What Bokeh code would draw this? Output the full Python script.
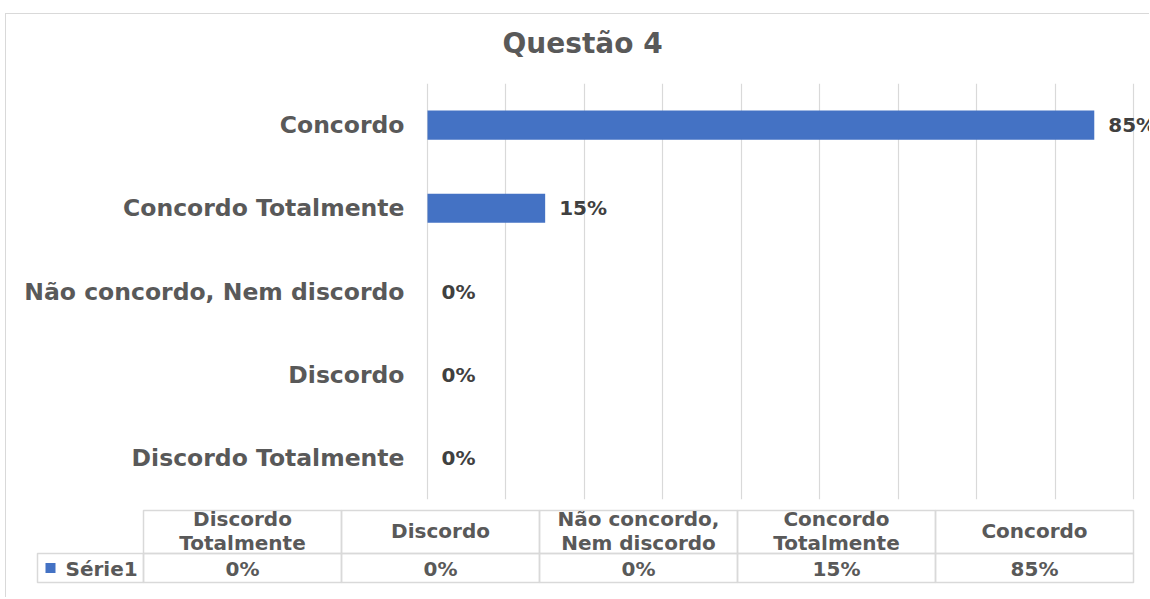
from bokeh.plotting import figure
from bokeh.layouts import column
from bokeh.models import FactorRange, Range1d, FixedTicker, ColumnDataSource, Title
from bokeh.core.properties import value
from bokeh.embed import file_html
from bokeh.resources import INLINE

# ---------------- data ----------------
categories = ["Discordo Totalmente", "Discordo", "Não concordo, Nem discordo",
              "Concordo Totalmente", "Concordo"]
values = [0.0, 0.0, 0.0, 0.15, 0.85]
table_headers = ["Discordo\nTotalmente", "Discordo", "Não concordo,\nNem discordo",
                 "Concordo\nTotalmente", "Concordo"]
series_name = "Série1"
title_text = "Questão 4"
grid_ticks = [0.0, 0.1, 0.2, 0.3, 0.4, 0.5, 0.6, 0.7, 0.8, 0.9]

labels = [f"{int(round(v * 100))}%" for v in values]

FONT = "DejaVu Sans"
TXT = "#595959"
BAR = "#4472C4"
GRID = "#d9d9d9"

# ---------------- layout constants (canvas pixels) ----------------
W = 1143                 # canvas width (page x 6 .. 1149)
AXIS0 = 421.0            # canvas x of value 0
PX_PER_UNIT = 706.0 / 0.9
MAIN_H = 494
TABLE_H = 89

# ---------------- main bar chart ----------------
src = ColumnDataSource(dict(cat=categories, val=values, lab=labels))

x_start = -AXIS0 / PX_PER_UNIT
x_end = (W - AXIS0) / PX_PER_UNIT
p = figure(width=W, height=MAIN_H, y_range=FactorRange(*categories),
           x_range=Range1d(x_start, x_end), output_backend="svg",
           toolbar_location=None, min_border_left=0, min_border_right=0,
           min_border_top=69, min_border_bottom=9)
p.outline_line_color = None
p.background_fill_color = "white"
p.border_fill_color = "white"

p.hbar(y="cat", right="val", left=0, height=0.35, source=src,
       fill_color=BAR, line_color=None)
p.text(x="val", y="cat", text="lab", source=src, x_offset=14,
       text_align="left", text_baseline="middle",
       text_font=value(FONT), text_font_style="bold",
       text_font_size="20px", text_color="#404040")
# category labels
p.text(x=[0] * len(categories), y=categories, text=categories, x_offset=-23,
       text_align="right", text_baseline="middle",
       text_font=value(FONT), text_font_style="bold",
       text_font_size="23.5px", text_color=TXT)

p.axis.visible = False
p.xgrid.ticker = FixedTicker(ticks=grid_ticks)
p.xgrid.grid_line_color = GRID
p.xgrid.grid_line_width = 1.2
p.ygrid.grid_line_color = None

p.title.text = title_text
p.title.align = "left"
p.title.offset = 496
p.title.standoff = 10
p.title.text_font = FONT
p.title.text_font_style = "bold"
p.title.text_font_size = "28px"
p.title.text_color = TXT
# empty spacer panel between the title and the plot frame
p.add_layout(Title(text=" ", text_font_size="2px", standoff=15), "above")

# ---------------- data table ----------------
t = figure(width=W, height=TABLE_H, x_range=Range1d(0, W), y_range=Range1d(TABLE_H, 0),
           output_backend="svg", toolbar_location=None,
           min_border=0, min_border_left=0, min_border_right=0,
           min_border_top=0, min_border_bottom=0)
t.axis.visible = False
t.grid.visible = False
t.outline_line_color = None
t.background_fill_color = "white"
t.border_fill_color = "white"

col_x0 = 137.0
col_x1 = 1127.0
leg_x0 = 31.0
col_w = (col_x1 - col_x0) / len(categories)
h_top, h_mid_line, h_bot = 2.0, 45.0, 74.0
lefts = [col_x0 + i * col_w for i in range(len(categories))]
rights = [l + col_w for l in lefts]
centers = [l + col_w / 2 for l in lefts]
n = len(categories)

t.quad(left=lefts, right=rights, top=[h_top] * n, bottom=[h_mid_line] * n,
       fill_color=None, line_color=GRID, line_width=1.5)
t.quad(left=lefts, right=rights, top=[h_mid_line] * n, bottom=[h_bot] * n,
       fill_color=None, line_color=GRID, line_width=1.5)
t.quad(left=[leg_x0], right=[col_x0], top=[h_mid_line], bottom=[h_bot],
       fill_color=None, line_color=GRID, line_width=1.5)

t.text(x=centers, y=[(h_top + h_mid_line) / 2 - 1] * n, text=table_headers,
       text_align="center", text_baseline="middle", text_line_height=1.0,
       text_font=value(FONT), text_font_style="bold",
       text_font_size="20px", text_color=TXT)
t.text(x=centers, y=[(h_mid_line + h_bot) / 2 + 1] * n, text=labels,
       text_align="center", text_baseline="middle",
       text_font=value(FONT), text_font_style="bold",
       text_font_size="20px", text_color=TXT)
t.rect(x=[leg_x0 + 13], y=[(h_mid_line + h_bot) / 2], width=10, height=10,
       fill_color=BAR, line_color=None)
t.text(x=[leg_x0 + 28], y=[(h_mid_line + h_bot) / 2 + 1], text=[series_name],
       text_align="left", text_baseline="middle",
       text_font=value(FONT), text_font_style="bold",
       text_font_size="20px", text_color=TXT)

layout = column(p, t, spacing=0, margin=(13, 0, 0, 5),
                styles={"border-top": "1px solid #d9d9d9",
                        "border-left": "1px solid #d9d9d9"})

open("out.html", "w").write(file_html(layout, INLINE))
